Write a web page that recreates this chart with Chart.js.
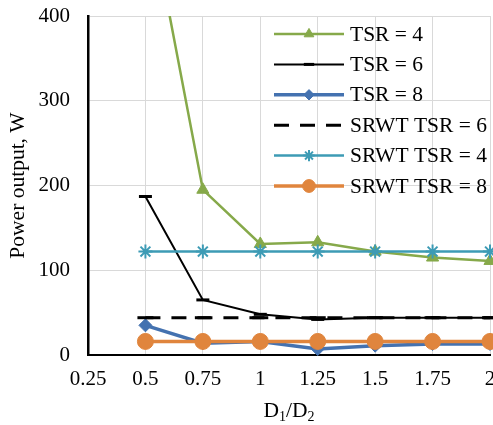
<!DOCTYPE html>
<html>
<head>
<meta charset="utf-8">
<script src="https://cdn.jsdelivr.net/npm/chart.js"></script>
<style>
  html, body { margin: 0; padding: 0; background: #fff; }
</style>
</head>
<body>
<canvas id="myChart" width="493" height="425"></canvas>
<script>
// D1/D2 ratios on the x axis
const ratios = [0.5, 0.75, 1, 1.25, 1.5, 1.75, 2];

// power output, W
const tsr4 = [550, 195, 131, 133, 122, 115, 111];
const tsr6 = [187, 65, 48, 42, 44, 44, 44];
const tsr8 = [35, 14, 16, 7, 11, 13, 13];
const srwt6 = [44, 44, 44, 44, 44, 44, 44];
const srwt4 = [122, 122, 122, 122, 122, 122, 122];
const srwt8 = [16, 16, 16, 16, 16, 16, 16];

const xTicks = [0.25, 0.5, 0.75, 1, 1.25, 1.5, 1.75, 2];
const yTicks = [0, 100, 200, 300, 400];

const FONT = '"Liberation Serif", "Times New Roman", serif';

const toPoints = arr => arr.map((v, i) => ({ x: ratios[i], y: v }));

// клип только сверху, маркеры у краёв не обрезаются
const CLIP = { left: false, top: 0, right: false, bottom: false };

// легенда внутри области графика
const legendBox = {
  id: 'legendBox',
  afterDraw(chart) {
    const ctx = chart.ctx;
    const a = chart.chartArea;
    const x0 = a.left + 186, x1 = a.left + 256, tx = a.left + 262;
    let y = a.top + 18;
    ctx.save();
    chart.data.datasets.forEach(ds => {
      ctx.strokeStyle = ds.borderColor;
      ctx.lineWidth = ds.borderWidth;
      ctx.setLineDash(ds.borderDash || []);
      ctx.beginPath();
      ctx.moveTo(x0, y);
      ctx.lineTo(x1, y);
      ctx.stroke();
      ctx.setLineDash([]);
      if (ds.pointRadius > 0 && !ds.legendNoPoint) {
        ctx.fillStyle = ds.pointBackgroundColor;
        ctx.strokeStyle = ds.pointBorderColor;
        ctx.lineWidth = ds.pointBorderWidth;
        Chart.helpers.drawPoint(ctx, {
          pointStyle: ds.pointStyle,
          radius: ds.pointRadius * 0.8,
          rotation: 0,
          borderWidth: ds.pointBorderWidth
        }, (x0 + x1) / 2, y);
      }
      ctx.fillStyle = '#000';
      ctx.font = '21.5px ' + FONT;
      ctx.textBaseline = 'middle';
      ctx.textAlign = 'left';
      ctx.fillText(ds.label, tx, y + 1);
      y += 30.4;
    });
    ctx.restore();
  }
};

// подпись оси X с индексами
const xTitle = {
  id: 'xTitle',
  afterDraw(chart) {
    const ctx = chart.ctx;
    const a = chart.chartArea;
    const parts = [['D', 0], ['1', 1], ['/D', 0], ['2', 1]];
    const fontOf = p => (p[1] ? '14px ' : '21.5px ') + FONT;
    ctx.save();
    ctx.fillStyle = '#000';
    ctx.textBaseline = 'alphabetic';
    ctx.textAlign = 'left';
    let w = 0;
    parts.forEach(p => {
      ctx.font = fontOf(p);
      w += ctx.measureText(p[0]).width;
    });
    let x = (a.left + a.right) / 2 - w / 2;
    const base = 417;
    parts.forEach(p => {
      ctx.font = fontOf(p);
      ctx.fillText(p[0], x, base + (p[1] ? 4 : 0));
      x += ctx.measureText(p[0]).width;
    });
    ctx.restore();
  }
};

const datasets = [
  {
    label: 'TSR = 4', data: toPoints(tsr4),
    borderColor: '#86a94a', borderWidth: 2.5,
    pointStyle: 'triangle', pointRadius: 7,
    pointBackgroundColor: '#86a94a', pointBorderColor: '#86a94a', pointBorderWidth: 1,
    order: 6
  },
  {
    label: 'TSR = 6', data: toPoints(tsr6),
    borderColor: '#000', borderWidth: 2,
    pointStyle: 'line', pointRadius: 6.5,
    pointBackgroundColor: '#000', pointBorderColor: '#000', pointBorderWidth: 3,
    order: 5
  },
  {
    label: 'TSR = 8', data: toPoints(tsr8),
    borderColor: '#4472b0', borderWidth: 3.5,
    pointStyle: 'rectRot', pointRadius: 6.5,
    pointBackgroundColor: '#4472b0', pointBorderColor: '#4472b0', pointBorderWidth: 1,
    order: 4
  },
  {
    label: 'SRWT TSR = 6', data: toPoints(srwt6),
    borderColor: '#000', borderWidth: 3, borderDash: [15, 11],
    pointStyle: 'line', pointRadius: 8, legendNoPoint: true,
    pointBackgroundColor: '#000', pointBorderColor: '#000', pointBorderWidth: 3,
    order: 3
  },
  {
    label: 'SRWT TSR = 4', data: toPoints(srwt4),
    borderColor: '#3d9bb5', borderWidth: 2.5,
    pointStyle: 'star', pointRadius: 7,
    pointBackgroundColor: '#3d9bb5', pointBorderColor: '#3d9bb5', pointBorderWidth: 2,
    order: 2
  },
  {
    label: 'SRWT TSR = 8', data: toPoints(srwt8),
    borderColor: '#e0853d', borderWidth: 3.5,
    pointStyle: 'circle', pointRadius: 8,
    pointBackgroundColor: '#e0853d', pointBorderColor: '#e0853d', pointBorderWidth: 1,
    order: 1
  }
];
datasets.forEach(ds => { ds.clip = CLIP; });

new Chart(document.getElementById('myChart').getContext('2d'), {
  type: 'line',
  data: { datasets },
  options: {
    responsive: false,
    animation: false,
    layout: { autoPadding: false, padding: { top: 16, right: 3, left: 0, bottom: 0 } },
    plugins: { legend: { display: false }, tooltip: { enabled: false } },
    elements: { line: { tension: 0, fill: false } },
    scales: {
      x: {
        type: 'linear', min: 0.25, max: 2,
        afterBuildTicks: s => { s.ticks = xTicks.map(v => ({ value: v })); },
        afterFit: s => { s.height = 70; s.paddingLeft = 0; s.paddingRight = 0; },
        grid: { color: '#d9d9d9', lineWidth: 1, drawTicks: false },
        border: { color: '#000', width: 2 },
        ticks: { color: '#000', padding: 12, maxRotation: 0, autoSkip: false,
          font: { family: FONT, size: 21 }, callback: v => String(v) }
      },
      y: {
        type: 'linear', min: 0, max: 400,
        afterBuildTicks: s => { s.ticks = yTicks.map(v => ({ value: v })); },
        afterFit: s => { s.width = 88; s.paddingTop = 0; s.paddingBottom = 0; },
        grid: { color: '#d9d9d9', lineWidth: 1, drawTicks: false },
        border: { color: '#000', width: 2.5 },
        title: { display: true, text: 'Power output, W', color: '#000',
          font: { family: FONT, size: 21.5 }, padding: { top: 5, bottom: 0 } },
        ticks: { color: '#000', padding: 18, font: { family: FONT, size: 21 } }
      }
    }
  },
  plugins: [legendBox, xTitle]
});
</script>
</body>
</html>
